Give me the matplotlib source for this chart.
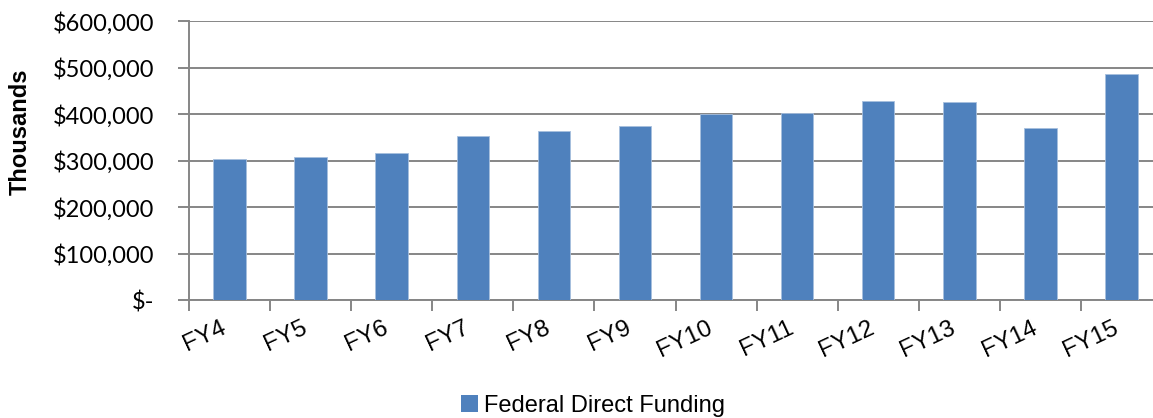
import numpy as np
import matplotlib
matplotlib.use("Agg")
import matplotlib.pyplot as plt
from matplotlib.patches import Patch
from matplotlib.ticker import FuncFormatter

# --- Data (thousands of dollars) ---
years = ["FY4", "FY5", "FY6", "FY7", "FY8", "FY9",
         "FY10", "FY11", "FY12", "FY13", "FY14", "FY15"]
funding = [304000, 307000, 316000, 354000, 364000, 375000,
           400000, 402000, 428000, 426000, 370000, 487000]
y_ticks = [0, 100000, 200000, 300000, 400000, 500000, 600000]

bar_color = "#4F81BD"
axis_gray = "#868686"

fig = plt.figure(figsize=(11.53, 4.18), dpi=100)
ax = fig.add_axes([189 / 1153, 118 / 418, 973 / 1153, 278.7 / 418])

x = np.arange(len(years))
ax.bar(x, funding, width=0.4, color=bar_color, edgecolor="#A7BFDE",
       linewidth=0.6, zorder=3)

ax.set_xlim(-0.5, len(years) - 0.5)
ax.set_ylim(0, 600000)

# gridlines + spines
ax.set_yticks(y_ticks)
ax.yaxis.grid(True, color=axis_gray, linewidth=1.4, zorder=0)
for s in ["top", "right"]:
    ax.spines[s].set_visible(False)
for s in ["left", "bottom"]:
    ax.spines[s].set_color(axis_gray)
    ax.spines[s].set_linewidth(1.4)

def money(v, pos):
    if v == 0:
        return "$-"
    return "${:,.0f}".format(v)

ax.yaxis.set_major_formatter(FuncFormatter(money))
ax.tick_params(axis="y", length=8, width=1.4, color=axis_gray, pad=17,
               labelsize=17)
for lbl in ax.get_yticklabels():
    lbl.set_fontfamily("Lato")

# category ticks between bars, labels under centres
ax.set_xticks(x)
ax.set_xticklabels(years, rotation=25, ha="right",
                   fontfamily="Liberation Sans", fontsize=17.5)
ax.set_xticks(np.arange(-0.5, len(years), 1.0), minor=True)
ax.tick_params(axis="x", which="major", length=0, pad=12)
ax.tick_params(axis="x", which="minor", length=8, width=1.4, color=axis_gray)

fig.text(20 / 1153, 1 - 131.5 / 418, "Thousands", rotation=90,
         ha="center", va="center", fontsize=17, fontweight="bold",
         fontfamily="Liberation Sans")

handle = Patch(facecolor=bar_color, edgecolor="none")
fig.legend([handle], ["Federal Direct Funding"], loc="center",
           bbox_to_anchor=(593 / 1153, 12 / 418), frameon=False,
           handlelength=0.7, handleheight=0.7, handletextpad=0.25,
           prop={"family": "Liberation Sans", "size": 17})

fig.savefig("out.png", dpi=100)
